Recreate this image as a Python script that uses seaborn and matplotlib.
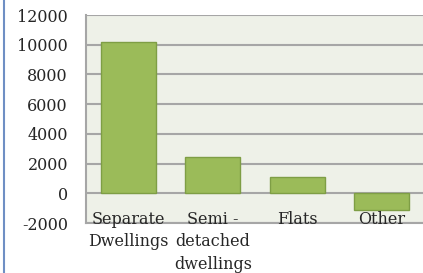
import matplotlib
matplotlib.use("Agg")
import matplotlib.pyplot as plt
import seaborn as sns
import pandas as pd
from matplotlib.lines import Line2D

categories = ["Separate\nDwellings", "Semi -\ndetached\ndwellings", "Flats", "Other"]
values = [10200, 2450, 1100, -1150]
yticks = [-2000, 0, 2000, 4000, 6000, 8000, 10000, 12000]

df = pd.DataFrame({"Category": categories, "Value": values})

sns.set_style("white")
plt.rcParams["font.family"] = ["DejaVu Serif"]

fig = plt.figure(figsize=(4.23, 2.73), dpi=100)
ax = fig.add_axes([86 / 423, 1 - 223 / 273, 338 / 423, 208 / 273])
ax.set_facecolor("#EEF1E8")

sns.barplot(data=df, x="Category", y="Value", color="#9BBB59", width=0.65,
            edgecolor="#7E9E45", linewidth=1, saturation=1, ax=ax, zorder=2)

ax.set_ylim(-2000, 12000)
ax.set_xlim(-0.5, 3.5)
ax.set_yticks(yticks)
ax.set_yticklabels([str(v) for v in yticks], fontsize=11.5)
ax.yaxis.grid(True, color="#A6A6A6", linewidth=1.5, zorder=0)
ax.set_axisbelow(True)
ax.set_xlabel("")
ax.set_ylabel("")
ax.tick_params(axis="y", length=0, pad=13)
ax.tick_params(axis="x", length=0, pad=-9)
ax.xaxis.set_zorder(5)
for lbl in ax.get_xticklabels():
    lbl.set_fontsize(11.5)
    lbl.set_verticalalignment("top")
    lbl.set_linespacing(1.45)
for side in ["top", "right"]:
    ax.spines[side].set_visible(False)
for side in ["left", "bottom"]:
    ax.spines[side].set_color("#A6A6A6")
    ax.spines[side].set_linewidth(1.5)

fig.add_artist(Line2D([4 / 423, 4 / 423], [0, 1], color="#6F8FC4", linewidth=1.5))

fig.savefig("out.png", dpi=100)
